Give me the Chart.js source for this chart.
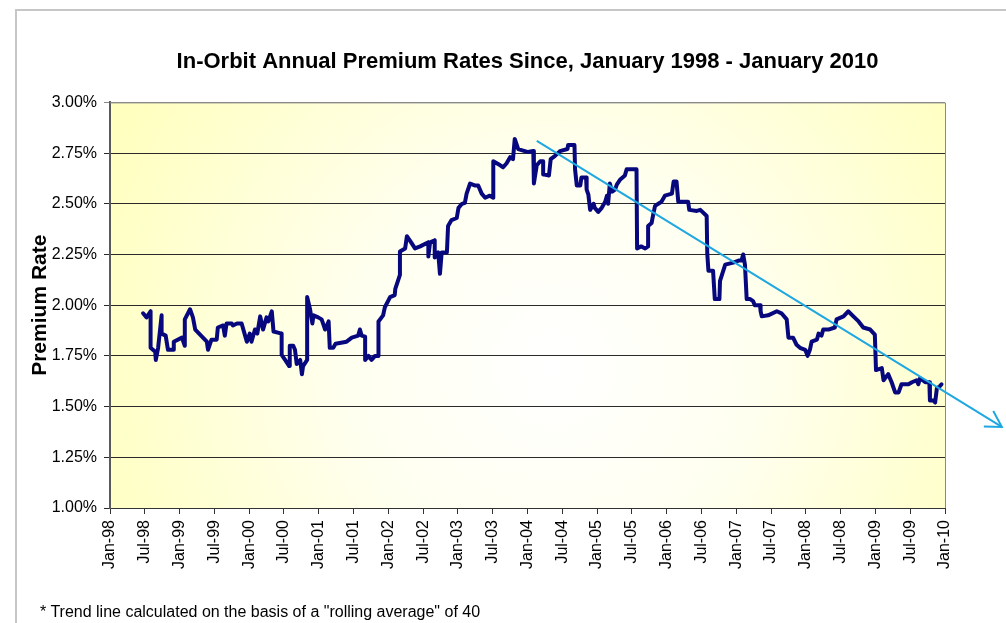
<!DOCTYPE html>
<html>
<head>
<meta charset="utf-8">
<script src="https://cdn.jsdelivr.net/npm/chart.js@4.4.1/dist/chart.umd.min.js"></script>
<style>
  html, body { margin: 0; padding: 0; background: #fff; }
  #wrap { position: relative; width: 1006px; height: 623px; overflow: hidden; }
  #frame { position: absolute; left: 15px; top: 9px; width: 1100px; height: 700px;
           border-left: 2px solid #c6c6c6; border-top: 2px solid #c6c6c6; }
  #chart { position: absolute; left: 0; top: 0; }
  #note { position: absolute; left: 40px; top: 603px; font: 16px Arial, "Liberation Sans", sans-serif;
          color: #000; white-space: nowrap; line-height: 18px; }
</style>
</head>
<body>
<div id="wrap">
  <div id="frame"></div>
  <canvas id="chart" width="1006" height="623"></canvas>
  <div id="note">* Trend line calculated on the basis of a "rolling average" of 40</div>
</div>
<script>
// months since Jan-98
const tickLabels = ['Jan-98', 'Jul-98', 'Jan-99', 'Jul-99', 'Jan-00', 'Jul-00', 'Jan-01', 'Jul-01',
  'Jan-02', 'Jul-02', 'Jan-03', 'Jul-03', 'Jan-04', 'Jul-04', 'Jan-05', 'Jul-05', 'Jan-06', 'Jul-06',
  'Jan-07', 'Jul-07', 'Jan-08', 'Jul-08', 'Jan-09', 'Jul-09', 'Jan-10'];

const months = [5.7, 6.3, 7.0, 7.0, 7.8, 7.9, 8.3, 8.9, 8.9, 9.6, 10.0, 10.9, 11.0, 12.4, 12.9, 12.9,
  13.8, 14.3, 14.7, 16.7, 16.9, 17.5, 18.4, 18.6, 19.5, 19.8, 20.1, 21.0, 21.2, 21.9, 22.7, 23.3, 23.6,
  24.1, 24.4, 25.0, 25.4, 25.9, 26.4, 27.0, 27.3, 27.9, 28.2, 29.6, 29.6, 30.2, 30.9, 31.0, 31.6, 31.9,
  32.2, 32.8, 33.1, 33.3, 34.0, 34.0, 34.5, 34.9, 35.1, 35.9, 36.5, 37.1, 37.7, 37.9, 38.5, 38.9, 40.8,
  41.7, 42.8, 43.1, 43.4, 44.0, 44.0, 44.6, 45.1, 45.7, 46.3, 46.3, 47.1, 47.4, 48.3, 49.1, 49.2, 50.0,
  50.0, 50.9, 51.2, 51.7, 52.6, 53.5, 54.9, 54.9, 55.2, 56.0, 56.0, 56.6, 56.9, 57.2, 58.1, 58.3, 58.9,
  59.8, 60.1, 60.7, 61.2, 61.5, 62.1, 63.0, 63.5, 64.1, 64.7, 65.5, 66.1, 66.1, 67.3, 67.8, 68.4, 69.0,
  69.5, 69.8, 70.4, 72.1, 73.0, 73.1, 73.6, 74.2, 74.7, 74.7, 75.7, 76.0, 76.7, 77.6, 78.9, 79.0, 80.1,
  80.2, 80.5, 81.1, 81.3, 82.1, 82.2, 82.5, 82.8, 83.4, 83.6, 84.2, 84.8, 85.4, 85.7, 85.9, 86.2, 86.6,
  87.1, 87.4, 88.0, 88.8, 89.1, 90.8, 90.9, 91.6, 92.3, 92.8, 92.8, 93.4, 93.7, 94.0, 95.1, 95.7, 96.9,
  97.2, 97.7, 98.0, 99.7, 99.9, 101.2, 101.8, 102.9, 103.0, 103.2, 104.0, 104.3, 105.1, 105.2, 106.1,
  107.5, 108.4, 108.9, 109.2, 109.5, 109.8, 110.4, 110.9, 111.2, 112.1, 112.2, 112.4, 113.5, 115.0,
  115.8, 116.7, 117.0, 117.8, 118.4, 119.0, 119.9, 120.3, 120.7, 121.0, 121.9, 122.2, 122.7, 123.0,
  123.9, 125.0, 125.3, 126.5, 127.3, 128.2, 129.1, 129.9, 131.1, 131.9, 132.1, 133.1, 133.4, 134.2,
  134.8, 135.4, 136.0, 136.5, 137.7, 138.3, 139.1, 139.4, 139.7, 140.6, 141.3, 141.4, 142.0, 142.3,
  142.6, 143.1, 143.4];

const rates = [1.96, 1.94, 1.97, 1.79, 1.77, 1.73, 1.79, 1.95, 1.86, 1.85, 1.78, 1.78, 1.82, 1.84, 1.80, 1.93,
  1.98, 1.94, 1.88, 1.82, 1.78, 1.83, 1.83, 1.89, 1.90, 1.85, 1.91, 1.91, 1.90, 1.91, 1.91, 1.85, 1.82,
  1.86, 1.82, 1.88, 1.86, 1.945, 1.88, 1.94, 1.92, 1.97, 1.87, 1.86, 1.755, 1.73, 1.70, 1.80, 1.80, 1.78,
  1.71, 1.73, 1.66, 1.70, 1.73, 2.04, 1.98, 1.91, 1.95, 1.94, 1.93, 1.88, 1.92, 1.79, 1.79, 1.81, 1.82,
  1.84, 1.85, 1.88, 1.85, 1.845, 1.73, 1.75, 1.73, 1.75, 1.75, 1.92, 1.95, 1.99, 2.04, 2.05, 2.08, 2.15,
  2.265, 2.28, 2.34, 2.32, 2.28, 2.29, 2.31, 2.24, 2.31, 2.32, 2.235, 2.26, 2.155, 2.26, 2.26, 2.39, 2.42,
  2.43, 2.48, 2.50, 2.505, 2.55, 2.60, 2.59, 2.59, 2.55, 2.53, 2.54, 2.53, 2.71, 2.69, 2.68, 2.70, 2.73,
  2.72, 2.82, 2.77, 2.755, 2.76, 2.60, 2.69, 2.71, 2.71, 2.645, 2.64, 2.72, 2.735, 2.76, 2.77, 2.79, 2.79,
  2.67, 2.59, 2.59, 2.63, 2.63, 2.57, 2.545, 2.47, 2.50, 2.48, 2.46, 2.48, 2.51, 2.54, 2.50, 2.60, 2.56,
  2.57, 2.595, 2.62, 2.64, 2.67, 2.67, 2.28, 2.29, 2.28, 2.29, 2.39, 2.405, 2.45, 2.49, 2.51, 2.54, 2.55,
  2.61, 2.61, 2.51, 2.51, 2.47, 2.465, 2.47, 2.44, 2.255, 2.17, 2.17, 2.03, 2.03, 2.12, 2.20,
  2.21, 2.22, 2.22, 2.25, 2.20, 2.03, 2.03, 2.02, 2.00, 2.00, 1.97, 1.945, 1.95, 1.97,
  1.96, 1.93, 1.84, 1.84, 1.805, 1.79, 1.78, 1.75, 1.78, 1.82, 1.83, 1.86, 1.85, 1.88,
  1.88, 1.89, 1.93, 1.945, 1.97, 1.945, 1.92, 1.89, 1.88, 1.855, 1.68, 1.69, 1.63, 1.66,
  1.62, 1.57, 1.57, 1.61, 1.61, 1.62, 1.63, 1.61, 1.64, 1.62, 1.62, 1.53, 1.53, 1.52,
  1.59, 1.60, 1.61];

const trendMonths = [73.6, 153.8];
const trendRates = [2.81, 1.40];

const FONT = 'Arial, "Liberation Sans", sans-serif';

const plotBackground = {
  id: 'plotBackground',
  beforeDraw(chart) {
    const { ctx, chartArea: a } = chart;
    const cx = a.left + a.width * 0.53, cy = a.top + a.height * 0.65;
    const g = ctx.createRadialGradient(cx, cy, 0, cx, cy, a.width * 0.6);
    g.addColorStop(0, '#ffffff');
    g.addColorStop(0.4, '#fffff0');
    g.addColorStop(1, '#ffffbe');
    ctx.save();
    ctx.fillStyle = g;
    ctx.fillRect(a.left, a.top, a.width, a.height);
    ctx.restore();
  },
  afterDraw(chart) {
    const { ctx, chartArea: a } = chart;
    ctx.save();
    ctx.strokeStyle = '#8a8a8a';
    ctx.lineWidth = 1;
    ctx.beginPath();
    ctx.moveTo(a.left, a.top + 0.5);
    ctx.lineTo(a.right + 0.5, a.top + 0.5);
    ctx.lineTo(a.right + 0.5, a.bottom);
    ctx.stroke();
    ctx.restore();
  }
};

const trendArrow = {
  id: 'trendArrow',
  afterDatasetsDraw(chart) {
    const pts = chart.getDatasetMeta(1).data;
    const p1 = pts[pts.length - 1], p0 = pts[pts.length - 2];
    const ang = Math.atan2(p1.y - p0.y, p1.x - p0.x);
    const len = 18, spread = Math.PI / 6;
    const { ctx } = chart;
    ctx.save();
    ctx.strokeStyle = '#1ea7e1';
    ctx.lineWidth = 2;
    ctx.beginPath();
    ctx.moveTo(p1.x - len * Math.cos(ang - spread), p1.y - len * Math.sin(ang - spread));
    ctx.lineTo(p1.x, p1.y);
    ctx.lineTo(p1.x - len * Math.cos(ang + spread), p1.y - len * Math.sin(ang + spread));
    ctx.stroke();
    ctx.restore();
  }
};

new Chart(document.getElementById('chart'), {
  type: 'line',
  data: {
    datasets: [{
      label: 'Premium rate',
      data: months.map((m, i) => ({ x: m, y: rates[i] })),
      borderColor: '#08087e',
      borderWidth: 4,
      borderJoinStyle: 'round',
      borderCapStyle: 'round',
      pointRadius: 0,
      tension: 0,
      order: 2
    }, {
      label: 'Trend',
      data: trendMonths.map((m, i) => ({ x: m, y: trendRates[i] })),
      borderColor: '#1ea7e1',
      borderWidth: 2,
      pointRadius: 0,
      clip: false,
      order: 1
    }]
  },
  options: {
    responsive: false,
    animation: false,
    layout: { padding: { left: 25, right: 61, top: 0, bottom: 0 } },
    plugins: {
      legend: { display: false },
      tooltip: { enabled: false },
      title: {
        display: true,
        fullSize: false,
        text: 'In-Orbit Annual Premium Rates Since, January 1998 - January 2010',
        color: '#000',
        font: { family: FONT, size: 22, weight: 'bold', lineHeight: 1.2 },
        padding: { top: 49, bottom: 27 }
      }
    },
    scales: {
      x: {
        type: 'linear',
        min: 0,
        max: 144,
        afterFit(s) { s.height = 115; },
        grid: { drawOnChartArea: false, drawTicks: true, tickLength: 6, color: '#333' },
        border: { display: true, color: '#333', width: 1 },
        ticks: {
          stepSize: 6,
          autoSkip: false,
          minRotation: 90,
          maxRotation: 90,
          padding: 6,
          color: '#000',
          font: { family: FONT, size: 16 },
          callback: v => tickLabels[Math.round(v / 6)]
        }
      },
      y: {
        min: 1,
        max: 3,
        afterFit(s) { s.width = 85; },
        grid: {
          color: ctx => (ctx.tick && ctx.tick.value >= 2.99 ? '#8a8a8a' : '#2a2a2a'),
          lineWidth: 1,
          tickLength: 6
        },
        border: { display: true, color: '#5a5a5a', width: 2 },
        ticks: {
          stepSize: 0.25,
          padding: 7,
          color: '#000',
          font: { family: FONT, size: 16 },
          callback: v => v.toFixed(2) + '%'
        },
        title: {
          display: true,
          text: 'Premium Rate',
          color: '#000',
          font: { family: FONT, size: 21, weight: 'bold', lineHeight: 1.2 },
          padding: { top: 3, bottom: 0 }
        }
      }
    }
  },
  plugins: [plotBackground, trendArrow]
});
</script>
</body>
</html>
